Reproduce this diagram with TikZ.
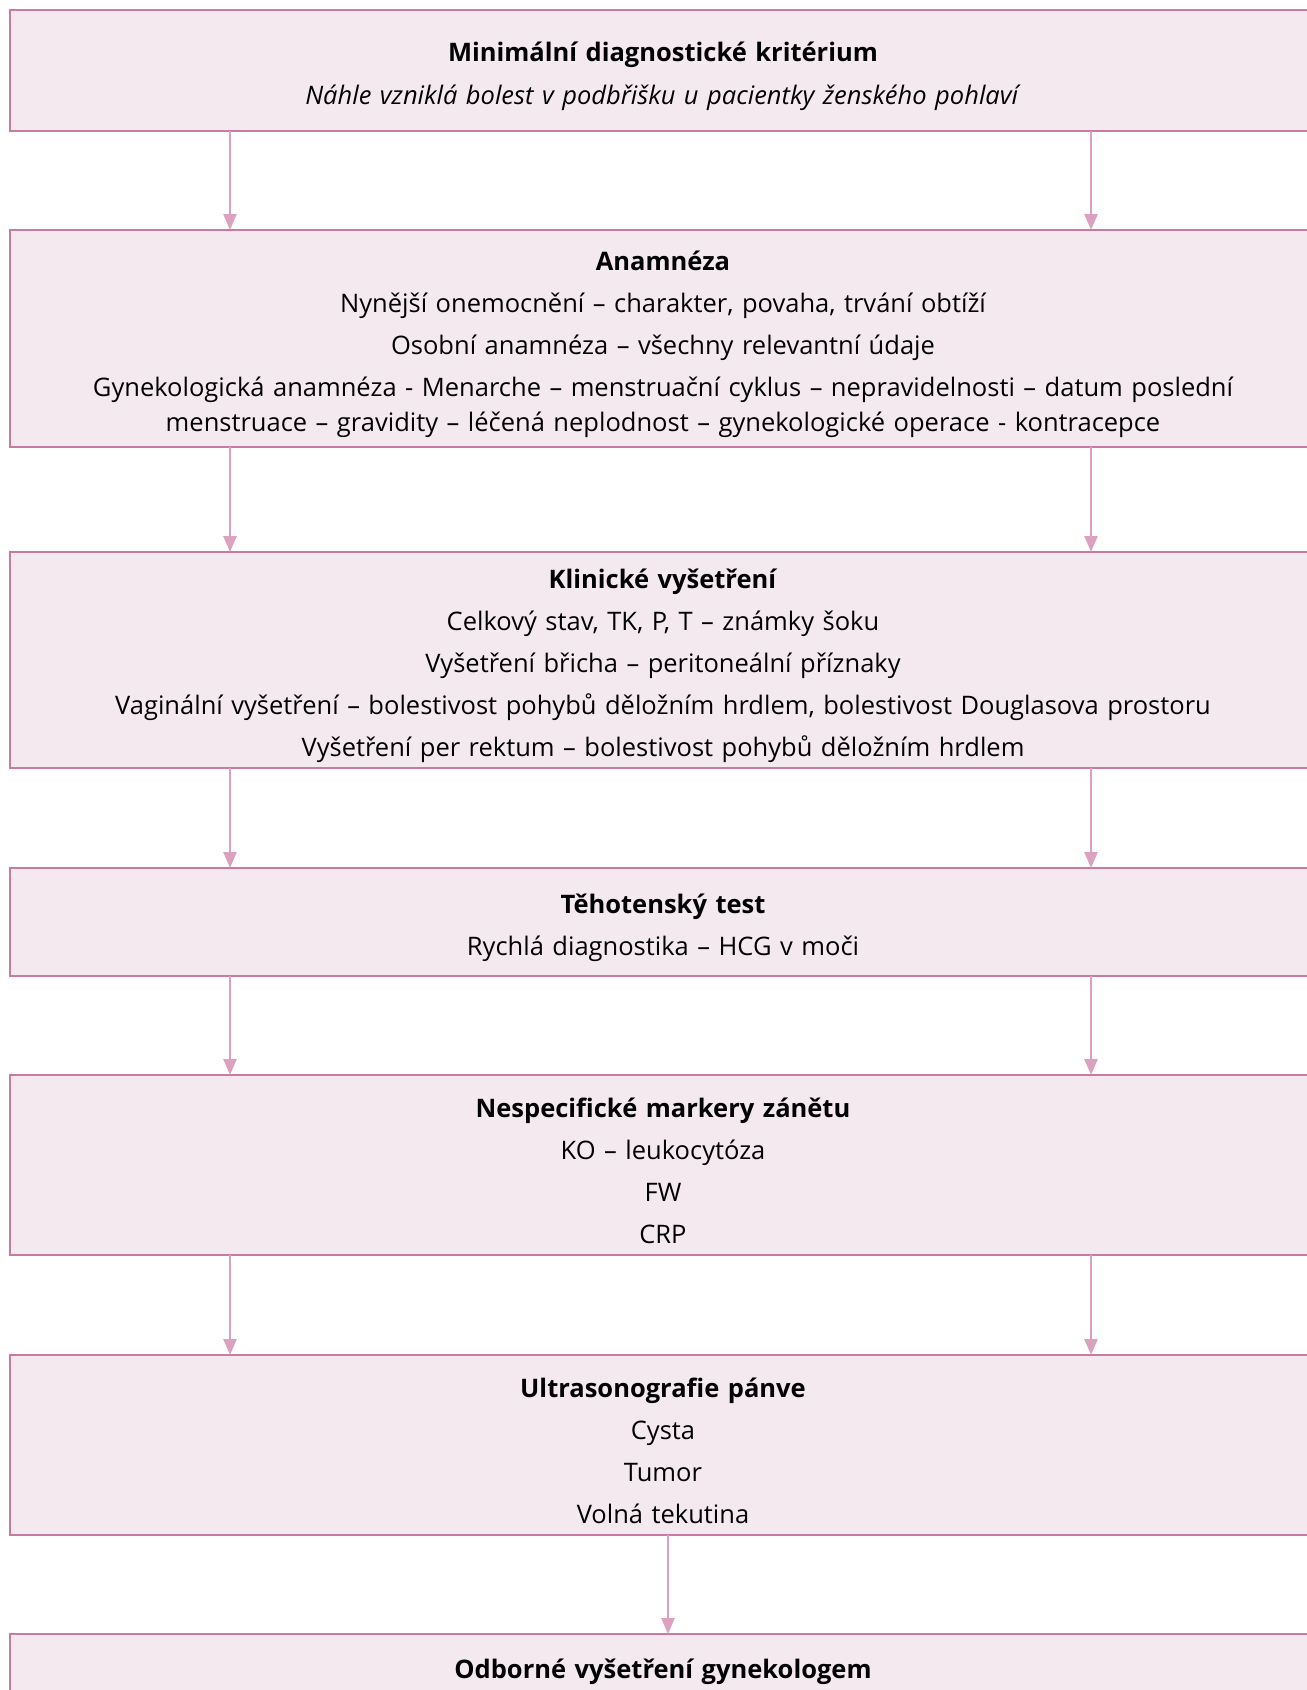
\documentclass[tikz,border=0pt]{standalone}
\usepackage{fontspec}
\setmainfont{Open Sans}
\usepackage{xcolor}
\usetikzlibrary{arrows.meta}
\usetikzlibrary{positioning}

\definecolor{boxline}{RGB}{201,122,160}
\definecolor{boxfill}{RGB}{245,233,240}
\definecolor{arrowline}{RGB}{220,160,192}

\tikzset{
    box/.style={draw=boxline, fill=boxfill, line width=2.5pt, minimum width=1306pt,
        text width=1270pt, align=center, inner sep=0pt, outer sep=0pt,
        font=\fontsize{25.5}{35}\selectfont,
        execute at begin node={\rule{0pt}{32pt}}},
    flow/.style={draw=arrowline, line width=2.5pt, -{Triangle[length=16pt,width=13pt]}}
}

\begin{document}
\begin{tikzpicture}[x=1pt, y=1pt]
        \useasboundingbox (0,0) rectangle (1307,-1690);

        \node[box, minimum height=121pt, anchor=north] (krit) at (663,-10)
            {\textbf{Minimální diagnostické kritérium}\\[8pt]
             \textit{Náhle vzniklá bolest v podbřišku u pacientky ženského pohlaví}};
        \node[box, minimum height=217pt, below=99pt of krit] (anam)
            {\textbf{Anamnéza}\\[7pt]
             Nynější onemocnění – charakter, povaha, trvání obtíží\\[7pt]
             Osobní anamnéza – všechny relevantní údaje\\[7pt]
             Gynekologická anamnéza - Menarche – menstruační cyklus – nepravidelnosti – datum poslední\\
             menstruace – gravidity – léčená neplodnost – gynekologické operace - kontracepce};
        \node[box, minimum height=216pt, below=105pt of anam] (klin)
            {\textbf{Klinické vyšetření}\\[7pt]
             Celkový stav, TK, P, T – známky šoku\\[7pt]
             Vyšetření břicha – peritoneální příznaky\\[7pt]
             Vaginální vyšetření – bolestivost pohybů děložním hrdlem, bolestivost Douglasova prostoru\\[7pt]
             Vyšetření per rektum – bolestivost pohybů děložním hrdlem};
        \node[box, minimum height=108pt, below=100pt of klin] (test)
            {\textbf{Těhotenský test}\\[7pt]
             Rychlá diagnostika – HCG v moči};
        \node[box, minimum height=180pt, below=99pt of test] (mark)
            {\textbf{Nespecifické markery zánětu}\\[7pt]
             KO – leukocytóza\\[7pt]
             FW\\[7pt]
             CRP};
        \node[box, minimum height=180pt, below=100pt of mark] (usg)
            {\textbf{Ultrasonografie pánve}\\[7pt]
             Cysta\\[7pt]
             Tumor\\[7pt]
             Volná tekutina};
        \node[box, minimum height=64pt, below=99pt of usg] (gyn)
            {\textbf{Odborné vyšetření gynekologem}};

        \coordinate (L) at (230,0);
        \coordinate (R) at (1091,0);
        \coordinate (M) at (668,0);

        \foreach \a/\b in {krit/anam, anam/klin, klin/test, test/mark, mark/usg} {
            \draw[flow] (\a.south -| L) -- (\b.north -| L);
            \draw[flow] (\a.south -| R) -- (\b.north -| R);
        }
        \draw[flow] (usg.south -| M) -- (gyn.north -| M);
\end{tikzpicture}
\end{document}
